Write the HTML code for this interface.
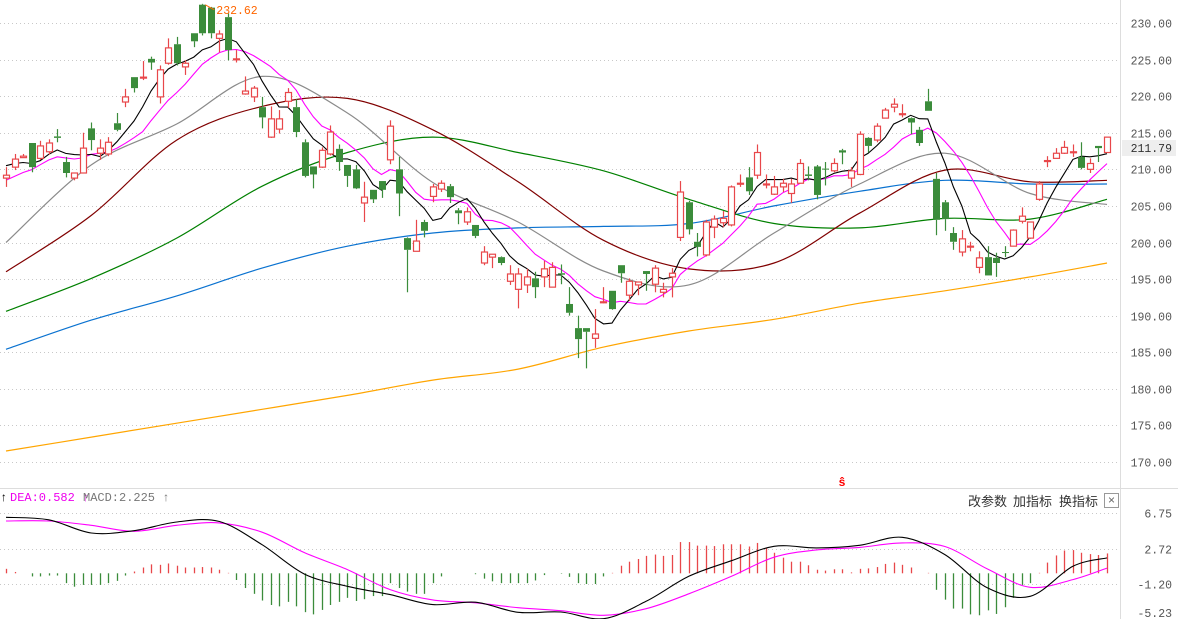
<!DOCTYPE html>
<html><head><meta charset="utf-8">
<style>
html,body{margin:0;padding:0;background:#fff;}
#wrap{position:relative;width:1178px;height:619px;overflow:hidden;font-family:"Liberation Mono","Noto Sans CJK SC",monospace;}
svg{position:absolute;left:0;top:0;}
.hdr{position:absolute;top:491px;font-size:12px;white-space:nowrap;}
.btn{position:absolute;top:491px;font-family:"Liberation Sans","Noto Sans CJK SC",sans-serif;font-size:13px;color:#333;}
</style></head>
<body>
<div id="wrap">
<svg id="chart" width="1178" height="619"></svg>
<div class="hdr" style="left:0px;color:#000">↑</div>
<div class="hdr" style="left:10px;color:#e0e">DEA:0.582 ↑</div>
<div class="hdr" style="left:83px;color:#777">MACD:2.225 ↑</div>
<div class="btn" style="left:968px">改参数</div>
<div class="btn" style="left:1013px">加指标</div>
<div class="btn" style="left:1059px">换指标</div>
<div style="position:absolute;left:1104px;top:493px;width:13px;height:13px;border:1px solid #999;font:12px 'Liberation Sans',sans-serif;color:#666;text-align:center;line-height:13px;">×</div>
</div>
<script>
const opens=[208.8,210.3,211.6,213.6,211.5,212.4,214.5,211,208.8,209.5,
215.6,212.2,212.1,216.3,219.2,222.6,222.5,225.1,219.9,224.5,
227.1,224,228.6,232.5,232.1,227.9,230.8,225,220.3,219.9,
218.5,214.4,215.5,219.3,218.5,213.7,210.4,210.3,212.1,212.8,
210.6,210,205.4,207.2,208.4,211.3,210,200.6,198.8,202.8,
206.3,207.3,207.7,204.4,202.8,202.4,197.2,198,198,194.7,
193.6,194.2,195.1,195.3,193.9,195.8,191.6,188.3,188.3,186.9,
191.8,193.4,196.9,192.8,194.2,196.1,194.3,193.2,195.3,200.7,
205.5,200.1,198.3,202.1,202.7,202.4,208,208.9,209.2,207.9,
206.6,207.6,206.7,208.1,209.3,210.4,210.1,209.8,212.6,208.8,
209.3,214.3,214,217,218.5,217.5,217,215.4,219.3,208.7,
205.5,201.3,198.7,199.45,196.6,198,197.9,198.7,199.5,202.9,
200.6,205.9,211.1,211.5,212.2,212.3,211.7,210,213.2,212.3];
const closes=[209.2,211.4,211.8,210.3,213.2,213.6,214.3,209.5,209.5,212.9,
214,212.9,213.7,215.4,219.9,221.1,222.6,224.6,223.6,226.6,
224.5,224.5,227.5,228.6,228.6,228.5,226.3,225.1,220.7,221.1,
217.1,216.9,216.9,220.5,215.1,209.1,209.3,212.6,215.1,211,
209.1,207.4,206.2,205.9,207.2,215.9,206.7,199,200.2,201.6,
207.6,208.1,206.2,204,204.2,200.9,198.7,198.4,197.2,195.7,
195.7,195.3,193.9,196.4,196.6,195.6,190.4,186.8,187.8,187.5,
191.9,190.9,195.8,194.7,194.6,195.7,196.5,193.6,195.8,206.9,
201.8,199.4,202.8,203.2,203.3,207.6,208.1,207,212.3,208,
207.6,208.1,208,210.8,209.1,206.5,210,210.8,212.3,209.8,
214.8,213.2,215.9,218.1,218.9,217.6,216.4,213.6,218,203.1,
203.2,200.1,200.5,199.5,197.9,195.5,197.2,198.6,201.7,203.6,
202.8,208,211.2,212.2,213,212.4,210.2,210.8,212.9,214.4];
const highs=[210.3,212.1,212.1,213.6,213.9,214.1,215.5,211.7,209.5,215,
216.4,214.1,214.4,217.7,221,222.6,224.8,225.4,224.2,227.9,
228.1,224.9,228.6,232.62,232.2,229,231.3,226.3,222.7,221.4,
219.9,218.6,218.1,221.1,219.6,214.1,210.4,213,216,213.4,
210.6,210.6,208.3,207.2,208.4,216.7,211.7,200.7,203.1,203.1,
208,208.5,208,204.7,204.8,202.4,199.5,198.4,198.1,196.9,
196.5,196.4,196,197.5,197.3,197,193.9,190,188.3,190.9,
193.9,193.4,196.9,195.1,194.6,196.1,196.9,194.5,196.5,208.4,
205.7,201.3,203.1,203.7,204.3,207.8,209.3,210.3,213.4,209.3,
209.1,208.7,208.7,211.4,210.4,210.6,211,211.5,212.8,210.3,
215.2,214.4,216.3,218.4,219.7,218.9,217.1,215.8,221,209.5,
205.8,202.1,201.7,200.1,198.8,199.5,198.6,199.5,201.8,204.8,
202.8,208.4,211.8,212.9,213.9,213.4,213.7,211.5,213.2,214.4];
const lows=[207.6,209.9,211.6,209.6,211.3,212,213.7,208.9,208.5,209.5,
212.6,211.3,211.8,215.2,218.5,220.5,222.2,223.6,219,224.3,
224.2,222.9,226.7,228.3,227.9,226,224.9,224.6,220.2,219.2,
215.6,214.3,214.9,218.4,214.4,208.9,207.4,210.2,211.9,209.8,
207.6,207.3,202.8,205.4,206.1,210.7,203.6,193.2,198.8,200.7,
205.5,206.9,205.4,202.5,202.4,200.6,196.9,196.5,196.9,194.2,
191,193.1,192.4,193.9,193.9,194.3,190,184.2,182.8,185.6,
191.7,190.8,194.5,192,192.8,193.4,193.2,192.5,192.5,200.2,
201.1,198.1,198.1,200.6,202.1,202.2,207.6,206.5,208.7,207.4,
206.5,206.9,205.4,208.1,208.5,205.9,207.8,209.6,210.7,207.6,
209.2,212.3,213.7,217,217.8,217.1,214.8,213.2,218,201,
201.6,199,198.1,198.8,195.8,195.5,195.3,198,199.5,202.6,
200.5,205.7,210.3,211.5,212.1,211.7,210,209.5,211,212.3];
const priorCloses=[206,206.5,206.5,206.5,207,210,211,211,211.3];
const knotIdx=[0,10,20,30,40,50,60,70,80,90,100,110,120,129];
const ma20=[200,210.6,216.2,222.7,217.7,208.2,202.8,196.1,194.2,201.3,208,212.2,206.7,205.2];
const ma30=[196,203.7,214,218.6,219.7,215.4,208.3,200.3,196.4,197.2,204,209.9,208.3,208.5];
const ma60=[190.6,195.1,200.6,207.7,212.3,214.4,212.3,209.8,205.9,202.6,202,203.3,203.2,205.9];
const ma120=[185.4,189.4,192.7,196.5,199.5,201.3,202,202.2,202.6,205,207,208.5,208,208];
const ma250=[171.5,173.4,175.3,177.2,179.1,181.2,182.7,185.7,187.9,189.5,191.7,193.4,195.3,197.2];
const priceTicks=[230,225,220,215,210,205,200,195,190,185,180,175,170];
const macdHist=[0.5,0.15,0,-0.35,-0.35,-0.25,-0.25,-1.1,-1.5,-1.3,
-1.3,-1.3,-1.1,-0.85,-0.25,0.2,0.65,1.0,0.95,1.1,
0.85,0.65,0.65,0.7,0.65,0.4,0.05,-0.75,-1.65,-2.3,
-3.05,-3.55,-3.7,-3.2,-3.7,-4.35,-4.6,-4.1,-3.55,-3.2,
-2.75,-3.1,-2.9,-2.55,-2.55,-1.1,-1.65,-2.05,-2.3,-2.3,
-1.1,-0.35,0,0,0,-0.1,-0.6,-0.9,-1.1,-1.1,
-1.1,-1.1,-0.8,-0.2,0,-0.05,-0.4,-1.1,-1.2,-1.2,
-0.35,0.05,0.85,1.3,1.6,1.95,2.1,1.95,2.05,3.5,
3.5,3.1,3.1,3.05,3.25,3.25,3.25,3.0,3.4,2.85,
2.3,1.75,1.3,1.3,0.9,0.4,0.3,0.45,0.45,0.1,
0.5,0.55,0.7,1.05,1.2,0.95,0.65,0,0.05,-1.85,
-2.95,-3.95,-3.95,-4.6,-4.7,-4.15,-4.55,-3.8,-2.75,-1.3,
-1.1,0.05,1.2,2.0,2.55,2.6,2.3,2.15,2.05,2.225];
const macdKnotIdx=[0,5,10,15,20,25,30,35,40,45,50,55,60,65,70,75,80,85,90,95,100,105,110,115,120,125,129];
const difVals=[6.27,5.99,4.51,4.77,5.75,5.8,3.2,-0.1,-1.46,-2.39,-3.5,-3.24,-4.37,-4.33,-5.08,-3.14,-0.34,1.41,3.02,2.84,3.13,4.03,2.09,-1.64,-2.58,0.78,1.72];
const deaVals=[5.86,5.86,5.37,4.7,5.37,5.64,4.6,2.3,0.41,-1.83,-2.98,-3.3,-3.85,-4.19,-4.7,-3.96,-2.3,-0.34,1.8,2.62,2.9,3.4,3.0,0.48,-1.57,-0.7,0.58];
const macdTicks=[6.75,2.72,-1.20,-5.23];
const peakLabel="232.62";
const lastPriceLabel="211.79";

const NS="http://www.w3.org/2000/svg";
const svg=document.getElementById('chart');
function xOf(i){return 6+i*8.535;}
function yP(p){return 23+(230-p)*7.317;}
function yM(v){return 573.3-v*8.93;}
function mk(tag,attrs,parent){const e=document.createElementNS(NS,tag);for(const k in attrs)e.setAttribute(k,attrs[k]);(parent||svg).appendChild(e);return e;}
function smoothPath(pts){
  let d='M'+pts[0][0].toFixed(1)+','+pts[0][1].toFixed(1);
  for(let i=0;i<pts.length-1;i++){
    const p0=pts[Math.max(i-1,0)],p1=pts[i],p2=pts[i+1],p3=pts[Math.min(i+2,pts.length-1)];
    const c1x=p1[0]+(p2[0]-p0[0])/6,c1y=p1[1]+(p2[1]-p0[1])/6;
    const c2x=p2[0]-(p3[0]-p1[0])/6,c2y=p2[1]-(p3[1]-p1[1])/6;
    d+=' C'+c1x.toFixed(1)+','+c1y.toFixed(1)+' '+c2x.toFixed(1)+','+c2y.toFixed(1)+' '+p2[0].toFixed(1)+','+p2[1].toFixed(1);
  }
  return d;
}
// grid + axis
priceTicks.forEach(t=>{
  const y=Math.round(yP(t))+0.5;
  const g=mk('line',{x1:0,x2:1120,y1:y,y2:y,stroke:'#c8c8c8','stroke-dasharray':'1,3'});
  
  
  const tx=mk('text',{x:1172,y:y+4,'text-anchor':'end','font-size':'11.5','font-family':'Liberation Mono, monospace',fill:'#555'});
  tx.textContent=t.toFixed(2);
  
  
});
macdTicks.forEach((t,k)=>{
  const y=Math.round(yM(t))+0.5;
  if(k<3){const g=mk('line',{x1:0,x2:1120,y1:y,y2:y,stroke:'#c8c8c8','stroke-dasharray':'1,3'});
  
  }
  const tx=mk('text',{x:1172,y:Math.min(y+4,617),'text-anchor':'end','font-size':'11.5','font-family':'Liberation Mono, monospace',fill:'#555'});
  tx.textContent=t.toFixed(2);
  
  
});
let ax=mk('line',{x1:1120.5,x2:1120.5,y1:0,y2:619,stroke:'#ddd'});


let sep=mk('line',{x1:0,x2:1178,y1:488.5,y2:488.5,stroke:'#ddd'});


// last price box
let lb=mk('rect',{x:1122,y:140,width:54,height:16,fill:'#eee'});


let lt=mk('text',{x:1172,y:152,'text-anchor':'end','font-size':'11.5','font-family':'Liberation Mono, monospace',fill:'#333'});
lt.textContent=lastPriceLabel;



// knot MAs
const maSets=[[ma250,'#ffa500','ma250-line'],[ma120,'#0a72d0','ma120-line'],[ma60,'#008000','ma60-line'],[ma30,'#800000','ma30-line'],[ma20,'#8a8a8a','ma20-line']];
maSets.forEach(s=>{
  const pts=knotIdx.map((i,k)=>[xOf(i),yP(s[0][k])]);
  const p=mk('path',{d:smoothPath(pts),fill:'none',stroke:s[1],'stroke-width':1.2});
  
  
});
// computed MA5 / MA10
function maN(n){const all=priorCloses.concat(closes);const off=priorCloses.length;const out=[];
  for(let i=0;i<closes.length;i++){let s=0;for(let j=0;j<n;j++)s+=all[off+i-j];out.push(s/n);}return out;}
[[maN(10),'#ff00ff','ma10-line'],[maN(5),'#000','ma5-line']].forEach(s=>{
  const d=s[0].map((v,i)=>(i?'L':'M')+xOf(i).toFixed(1)+','+yP(v).toFixed(1)).join(' ');
  const p=mk('path',{d:d,fill:'none',stroke:s[1],'stroke-width':1.1});
  
  
});
// candles
for(let i=0;i<closes.length;i++){
  const up=closes[i]>=opens[i];
  const col=up?'#e8474a':'#3b8c3b';
  const x=Math.round(xOf(i))+0.5;
  const g=mk('g',{});
  
  
  const top=yP(Math.max(opens[i],closes[i])),bot=yP(Math.min(opens[i],closes[i]));
  mk('line',{x1:x,x2:x,y1:yP(highs[i]),y2:top,stroke:col,'stroke-width':1.2},g);
  mk('line',{x1:x,x2:x,y1:bot,y2:yP(lows[i]),stroke:col,'stroke-width':1.2},g);
  const h=Math.max(bot-top,1);
  if(up) mk('rect',{x:x-3,y:top,width:6,height:h,fill:'#fff',stroke:col,'stroke-width':1.2},g);
  else mk('rect',{x:x-3.5,y:top,width:7,height:h,fill:col},g);
}
// peak label
let pi=highs.indexOf(Math.max(...highs));
let pl=mk('line',{x1:xOf(pi)+3,y1:yP(highs[pi])+1,x2:xOf(pi)+12,y2:yP(highs[pi])+6,stroke:'#f60'});


let pt=mk('text',{x:xOf(pi)+14,y:yP(highs[pi])+10,'font-size':'11.5','font-family':'Liberation Mono, monospace',fill:'#f60'});
pt.textContent=peakLabel;


// S marker
let sm=mk('text',{x:842,y:486,'text-anchor':'middle','font-size':'12','font-weight':'bold','font-family':'Liberation Mono, monospace',fill:'#f00'});
sm.textContent='ŝ';


// MACD bars
for(let i=0;i<macdHist.length;i++){
  const v=macdHist[i]; if(Math.abs(v)<0.02) continue;
  const x=Math.round(xOf(i))+0.5;
  const b=mk('line',{x1:x,x2:x,y1:yM(0),y2:yM(v),stroke:v>0?'#e8474a':'#3b8c3b','stroke-width':1.3});
  
  
}
[[deaVals,'#ff00ff','dea-line'],[difVals,'#000','dif-line']].forEach(s=>{
  const pts=macdKnotIdx.map((i,k)=>[xOf(i),yM(s[0][k])]);
  const p=mk('path',{d:smoothPath(pts),fill:'none',stroke:s[1],'stroke-width':1.1});
  
  
});
</script>
</body></html>
